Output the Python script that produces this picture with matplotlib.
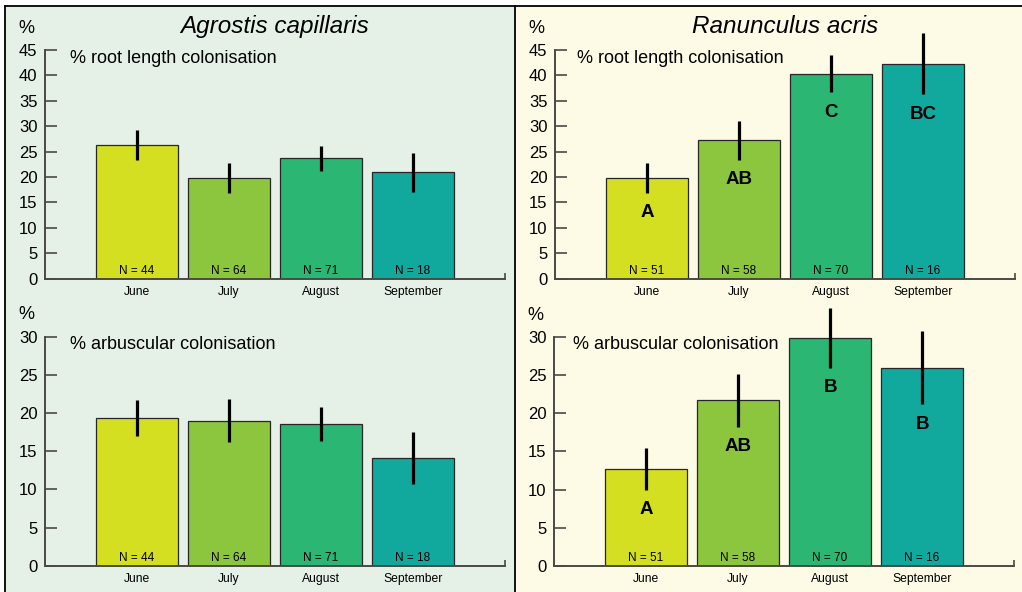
import matplotlib.pyplot as plt
from matplotlib.patches import Rectangle
from matplotlib.lines import Line2D

plt.rcParams['font.family'] = ['Liberation Sans', 'DejaVu Sans']

months = ["June", "July", "August", "September"]
month_colors = ["#d5df21", "#8cc63f", "#2bb673", "#11a89e"]

# Agrostis capillaris: mean colonisation (%) and standard error per month
agrostis_root = [26.3, 19.8, 23.7, 20.9]
agrostis_root_se = [3.0, 2.9, 2.5, 3.75]
agrostis_arb = [19.4, 19.0, 18.6, 14.1]
agrostis_arb_se = [2.35, 2.8, 2.2, 3.35]
agrostis_n = [44, 64, 71, 18]

# Ranunculus acris, with letters from the post-hoc comparison
ranunculus_root = [19.8, 27.2, 40.3, 42.3]
ranunculus_root_se = [2.9, 3.75, 3.65, 6.05]
ranunculus_root_groups = ["A", "AB", "C", "BC"]
ranunculus_arb = [12.7, 21.7, 29.9, 26.0]
ranunculus_arb_se = [2.7, 3.45, 3.9, 4.8]
ranunculus_arb_groups = ["A", "AB", "B", "B"]
ranunculus_n = [51, 58, 70, 16]

W, H = 1022, 592
AXIS_COLOR = "#4a4a44"

fig = plt.figure(figsize=(W / 100, H / 100), dpi=100)
fig.patch.set_facecolor("white")


def px_axes(x0, x1, ytop, ybot):
	# axes placed in pixel units measured from the top-left corner
	return fig.add_axes([x0 / W, 1 - ybot / H, (x1 - x0) / W, (ybot - ytop) / H])


def fig_text(x, y, s, **kw):
	return fig.text(x / W, 1 - y / H, s, va="baseline", **kw)


def draw_panel(ax, values, errs, ns, ymax, groups=None):
	x = list(range(len(values)))
	ax.set_facecolor("none")
	ax.bar(x, values, width=0.9, color=month_colors, edgecolor="#262626",
		linewidth=0.9, zorder=2)
	eb = ax.errorbar(x, values, yerr=errs, fmt="none", ecolor="black",
		elinewidth=2.3, capsize=0, zorder=3)
	for c in eb[2]:
		c.set_clip_on(False)
	ax.set_xlim(-1, 4)
	ax.set_ylim(0, ymax)
	for side in ("top", "right"):
		ax.spines[side].set_visible(False)
	for side in ("left", "bottom"):
		ax.spines[side].set_color(AXIS_COLOR)
		ax.spines[side].set_linewidth(1.4)
	ax.set_yticks(range(0, ymax + 1, 5))
	ax.tick_params(axis="y", direction="in", length=8.5, width=1.2,
		color=AXIS_COLOR, labelsize=12, pad=5.5)
	ax.set_xticks(x)
	ax.set_xticklabels(months, fontsize=8.7)
	ax.tick_params(axis="x", which="major", length=0, pad=5)
	ax.set_xticks([4], minor=True)
	ax.tick_params(axis="x", which="minor", direction="in", length=4,
		width=1.2, color=AXIS_COLOR)
	for i, n in enumerate(ns):
		ax.annotate(f"N = {n}", xy=(i, 0), xytext=(0, 3.2), textcoords="offset points",
			ha="center", va="baseline", fontsize=8.5, zorder=4)
	if groups:
		for i, g in enumerate(groups):
			ax.annotate(g, xy=(i, values[i] - errs[i]), xytext=(0, -17.5),
				textcoords="offset points", ha="center", va="baseline",
				fontsize=13.5, fontweight="bold", zorder=4)


# panel backgrounds and frame, kept behind the axes
fig.patches.append(Rectangle((5 / W, 0), 510 / W, 586 / H, transform=fig.transFigure,
	facecolor="#e5f1e7", edgecolor="none", zorder=-2))
fig.patches.append(Rectangle((515 / W, 0), 507 / W, 586 / H, transform=fig.transFigure,
	facecolor="#fdfbe6", edgecolor="none", zorder=-2))
for xs, ys in (([5, W], [6, 6]), ([5, 5], [6, H]), ([515, 515], [6, H])):
	fig.lines.append(Line2D([v / W for v in xs], [1 - v / H for v in ys],
		transform=fig.transFigure, color="black", linewidth=1.3, zorder=-1))

ax_a1 = px_axes(45, 505, 50, 278.7)
draw_panel(ax_a1, agrostis_root, agrostis_root_se, agrostis_n, 45)
ax_a2 = px_axes(45, 505, 336.7, 565.7)
draw_panel(ax_a2, agrostis_arb, agrostis_arb_se, agrostis_n, 30)
ax_r1 = px_axes(555, 1015, 50, 278.7)
draw_panel(ax_r1, ranunculus_root, ranunculus_root_se, ranunculus_n, 45, ranunculus_root_groups)
ax_r2 = px_axes(554, 1014, 337.2, 565.7)
draw_panel(ax_r2, ranunculus_arb, ranunculus_arb_se, ranunculus_n, 30, ranunculus_arb_groups)

fig_text(275, 33, "Agrostis capillaris", ha="center", fontsize=17.5, style="italic")
fig_text(785, 33, "Ranunculus acris", ha="center", fontsize=17.5, style="italic")

for x0, y0 in ((18, 33), (18, 319), (528, 33), (527, 320)):
	fig_text(x0, y0, "%", ha="left", fontsize=13)

fig_text(70, 63, "% root length colonisation", ha="left", fontsize=13)
fig_text(70, 349, "% arbuscular colonisation", ha="left", fontsize=13)
fig_text(577, 63, "% root length colonisation", ha="left", fontsize=13)
fig_text(573, 349, "% arbuscular colonisation", ha="left", fontsize=13)

fig.savefig("out.png", dpi=100)
